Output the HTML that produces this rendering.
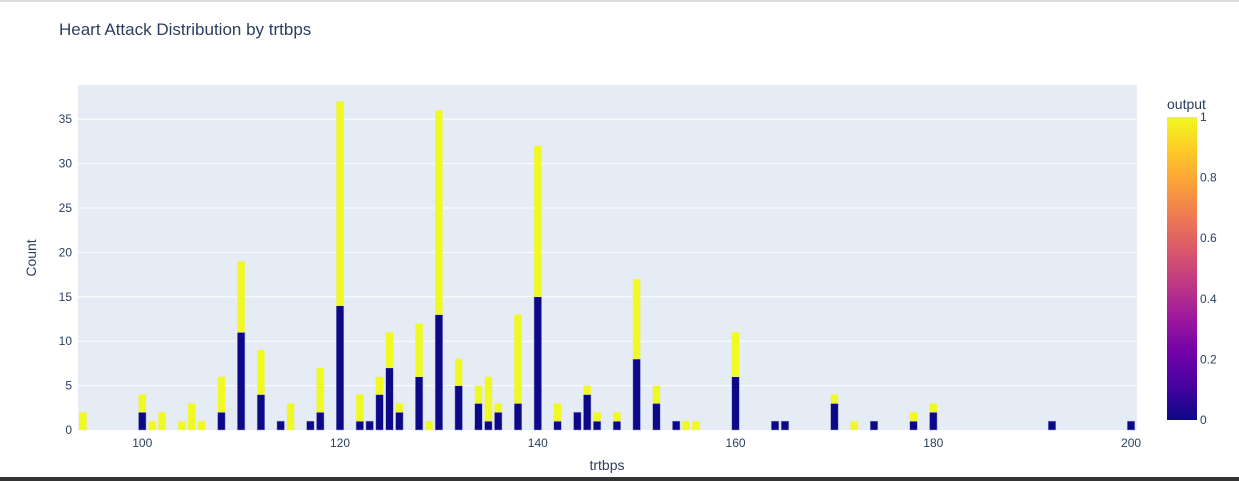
<!DOCTYPE html>
<html><head><meta charset="utf-8"><style>
body{margin:0;width:1239px;height:481px;overflow:hidden;background:#fff;font-family:"Liberation Sans",sans-serif}
</style></head><body>
<div style="position:absolute;left:0;top:0;width:1239px;height:2px;background:#ddd"></div>
<div style="position:absolute;left:0;top:477px;width:1239px;height:4px;background:#333"></div>
<svg id="c" width="1239" height="481" style="position:absolute;left:0;top:0" font-family="Liberation Sans, sans-serif">
<defs><linearGradient id="pl" x1="0" y1="1" x2="0" y2="0">
<stop offset="0" stop-color="#0d0887"/><stop offset="0.111" stop-color="#46039f"/><stop offset="0.222" stop-color="#7201a8"/><stop offset="0.333" stop-color="#9c179e"/><stop offset="0.444" stop-color="#bd3786"/><stop offset="0.556" stop-color="#d8576b"/><stop offset="0.667" stop-color="#ed7953"/><stop offset="0.778" stop-color="#fb9f3a"/><stop offset="0.889" stop-color="#fdca26"/><stop offset="1" stop-color="#f0f921"/></linearGradient></defs>
<text x="59" y="35" font-size="17" fill="#2a3f5f">Heart Attack Distribution by trtbps</text>
<rect x="78" y="85" width="1059" height="345" fill="#e5ecf6"/>
<g id="grid"></g><g id="bars"></g><g id="xt"></g><g id="yt"></g>
<text x="607" y="470" font-size="14" fill="#2a3f5f" text-anchor="middle">trtbps</text>
<text transform="translate(36,258) rotate(-90)" font-size="14" fill="#2a3f5f" text-anchor="middle">Count</text>
<text x="1167" y="109" font-size="14" fill="#2a3f5f">output</text>
<rect x="1167" y="117" width="30" height="303" fill="url(#pl)"/>
<g id="cb"></g>
</svg>
<script>
const categories=[94,100,101,102,104,105,106,108,110,112,114,115,117,118,120,122,123,124,125,126,128,129,130,132,134,135,136,138,140,142,144,145,146,148,150,152,154,155,156,160,164,165,170,172,174,178,180,192,200];
const output0=[0,2,0,0,0,0,0,2,11,4,1,0,1,2,14,1,1,4,7,2,6,0,13,5,3,1,2,3,15,1,2,4,1,1,8,3,1,0,0,6,1,1,3,0,1,1,2,1,1];
const output1=[2,2,1,2,1,3,1,4,8,5,0,3,0,5,23,3,0,2,4,1,6,1,23,3,2,5,1,10,17,2,0,1,1,1,9,2,0,1,1,5,0,0,1,1,0,1,1,0,0];
const xTicks=[100,120,140,160,180,200];
const yTicks=[0,5,10,15,20,25,30,35];
const cbTicks=[0,0.2,0.4,0.6,0.8,1];
const NS="http://www.w3.org/2000/svg";
const X0=78,X1=1137,Y0=430,Y1=85,xmin=93.5,xmax=200.6,ymax=38.85;
function xs(v){return X0+(v-xmin)/(xmax-xmin)*(X1-X0);}
function ys(v){return Y0-v/ymax*(Y0-Y1);}
function mk(t,a,p){const e=document.createElementNS(NS,t);for(const k in a)e.setAttribute(k,a[k]);document.getElementById(p).appendChild(e);return e;}
yTicks.forEach(v=>{
 if(v>0){const l=mk('line',{x1:X0,x2:X1,y1:ys(v),y2:ys(v),stroke:'#fff','stroke-width':1},'grid');
 
 }
 const t=mk('text',{x:X0-6,y:ys(v)+4,'font-size':12,fill:'#2a3f5f','text-anchor':'end'},'yt');t.textContent=v;
 
 
});
xTicks.forEach(v=>{
 const t=mk('text',{x:xs(v),y:447,'font-size':12,fill:'#2a3f5f','text-anchor':'middle'},'xt');t.textContent=v;
 
 
});
const bw=(X1-X0)/(xmax-xmin)*0.76;
categories.forEach((c,i)=>{
 const x=xs(c)-bw/2;
 if(output0[i]>0){const r=mk('rect',{x:x,y:ys(output0[i]),width:bw,height:ys(0)-ys(output0[i]),fill:'#0d0887',stroke:'#9aa3d0','stroke-width':0.5},'bars');
 
 }
 if(output1[i]>0){const a=output0[i],b=a+output1[i];const r=mk('rect',{x:x,y:ys(b),width:bw,height:ys(a)-ys(b),fill:'#f0f921',stroke:'#e8ecb0','stroke-width':0.5},'bars');
 
 }
});
cbTicks.forEach(v=>{
 const t=mk('text',{x:1200,y:420-v*303+4,'font-size':12,fill:'#2a3f5f'},'cb');t.textContent=v;
 
 
});
</script>
</body></html>
